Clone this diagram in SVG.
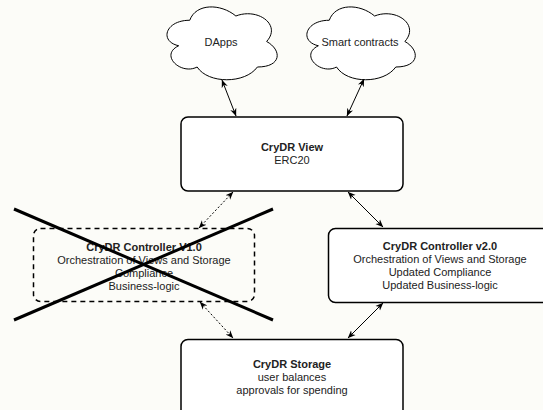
<svg xmlns="http://www.w3.org/2000/svg" width="543" height="410" viewBox="0 0 543 410">
<defs>
<style>
.box{fill:#ffffff;stroke:#000;stroke-width:1.5}
.dbox{fill:none;stroke:#000;stroke-width:1.5;stroke-dasharray:5 4}
.cloud{fill:#ffffff;stroke:#000;stroke-width:1}
.t{font-family:"Liberation Sans",Arial,sans-serif;font-size:11px;fill:#222;text-anchor:middle}
.b{font-weight:bold}
.c{stroke:#000;stroke-width:1;fill:none}
.dot{stroke-dasharray:2 2}
.x{stroke:#000;stroke-width:3;fill:none}
</style>
<marker id="arr" viewBox="0 0 10 10" refX="9.5" refY="5" markerWidth="8" markerHeight="8" markerUnits="userSpaceOnUse" orient="auto-start-reverse">
<path d="M0,1 L10,5 L0,9 L3,5 z" fill="#000"/>
</marker>
</defs>
<rect x="0" y="0" width="543" height="410" fill="#fcfcf8"/>

<g id="dapps">
<path class="cloud" d="M189.75,20.25 C165.15,20.25 159,41.5 178.68,45.75 C159,55.1 181.14,75.5 197.13,67 C208.2,84 245.1,84 257.4,67 C282,67 282,50 266.63,41.5 C282,24.5 257.4,7.5 235.88,16 C220.5,3.25 195.9,3.25 189.75,20.25 Z"/>
<text class="t" x="221" y="46">DApps</text>
</g>

<g id="smart">
<path class="cloud" d="M329.25,20.25 C305.05,20.25 299,41.5 318.36,45.75 C299,55.1 320.78,75.5 336.51,67 C347.4,84 383.7,84 395.8,67 C420,67 420,50 404.88,41.5 C420,24.5 395.8,7.5 374.63,16 C359.5,3.25 335.3,3.25 329.25,20.25 Z"/>
<text class="t" x="360" y="46">Smart contracts</text>
</g>

<g id="view">
<rect class="box" x="181" y="117" width="222" height="74" rx="7"/>
<text class="t b" x="292" y="151">CryDR View</text>
<text class="t" x="292" y="164">ERC20</text>
</g>

<g id="controller-v1">
<rect class="dbox" x="33.5" y="228.5" width="221" height="73" rx="7"/>
<text class="t b" x="144" y="251">CryDR Controller V1.0</text>
<text class="t" x="144" y="264">Orchestration of Views and Storage</text>
<text class="t" x="144" y="277">Compliance</text>
<text class="t" x="144" y="290">Business-logic</text>
</g>

<g id="controller-v2">
<rect class="box" x="328.5" y="228.5" width="224" height="74" rx="7"/>
<text class="t b" x="440" y="250">CryDR Controller v2.0</text>
<text class="t" x="440" y="263">Orchestration of Views and Storage</text>
<text class="t" x="440" y="276">Updated Compliance</text>
<text class="t" x="440" y="289">Updated Business-logic</text>
</g>

<g id="storage">
<rect class="box" x="181" y="339.5" width="222" height="90" rx="7"/>
<text class="t b" x="292" y="368">CryDR Storage</text>
<text class="t" x="292" y="381">user balances</text>
<text class="t" x="292" y="394">approvals for spending</text>
</g>

<g id="connectors">
<line class="c" x1="222" y1="80" x2="236" y2="116" marker-start="url(#arr)" marker-end="url(#arr)"/>
<line class="c" x1="364" y1="79" x2="347" y2="116" marker-start="url(#arr)" marker-end="url(#arr)"/>
<line class="c dot" x1="233" y1="192" x2="199" y2="228" marker-start="url(#arr)" marker-end="url(#arr)"/>
<line class="c dot" x1="200" y1="302" x2="233" y2="338" marker-start="url(#arr)" marker-end="url(#arr)"/>
<line class="c" x1="348" y1="192" x2="383" y2="227" marker-start="url(#arr)" marker-end="url(#arr)"/>
<line class="c" x1="383" y1="303" x2="348" y2="338" marker-start="url(#arr)" marker-end="url(#arr)"/>
</g>

<g id="cross">
<line class="x" x1="14" y1="209" x2="273" y2="320"/>
<line class="x" x1="14" y1="320" x2="273" y2="209"/>
</g>
</svg>
